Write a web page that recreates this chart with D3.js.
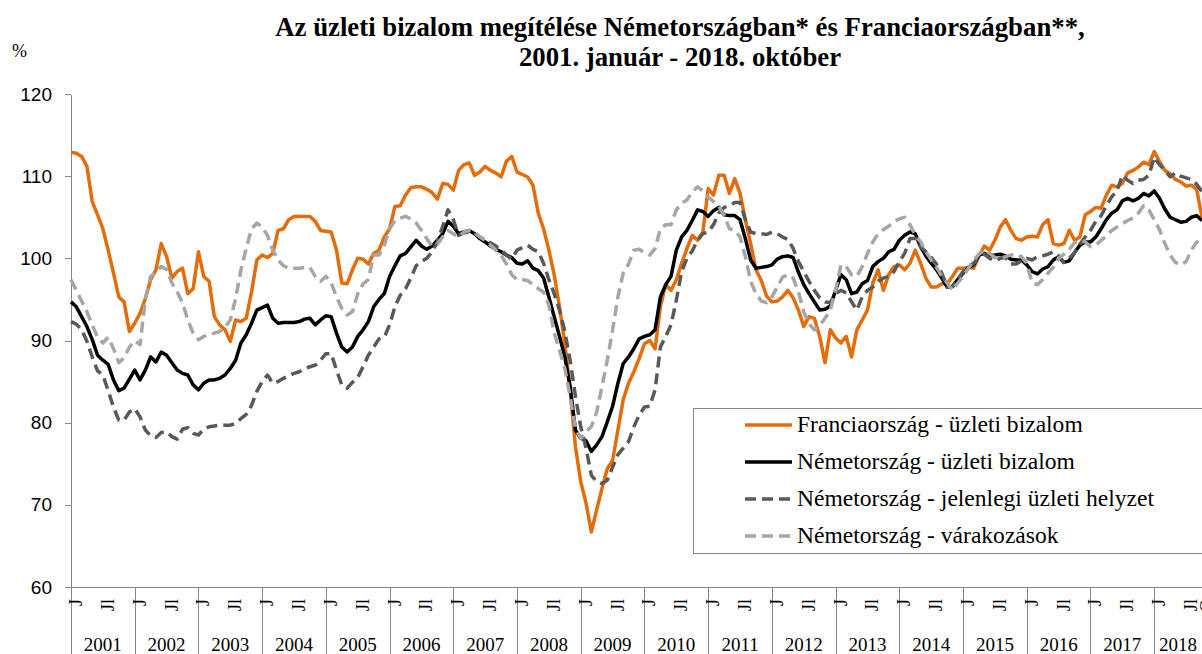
<!DOCTYPE html>
<html>
<head>
<meta charset="utf-8">
<script src="https://cdn.jsdelivr.net/npm/d3@7"></script>
<style>
  body { margin: 0; background: #fff; }
  svg { display: block; font-family: "Liberation Serif", "Times New Roman", serif; }
</style>
</head>
<body>
<svg id="chart" width="1202" height="654"></svg>
<script>
// Havi adatok, 2001. január - 2018. október (214 hónap)
var years = ["2001", "2002", "2003", "2004", "2005", "2006", "2007", "2008", "2009",
             "2010", "2011", "2012", "2013", "2014", "2015", "2016", "2017", "2018"];
var monthMarks = ["J", "Jl"];   // január, július
var lastMonthMark = "O";        // október
var yTicks = [60, 70, 80, 90, 100, 110, 120];

var seriesNames = [
  "Franciaország - üzleti bizalom",
  "Németország - üzleti bizalom",
  "Németország - jelenlegi üzleti helyzet",
  "Németország - várakozások"
];

var frClimate = [
  112.9,112.8,112.4,111.2,106.9,105.3,103.6,101.0,98.2,95.3,94.7,91.1,
  92.1,93.3,95.1,97.4,98.6,101.8,100.2,97.6,98.4,98.8,95.7,96.3,
  100.8,97.8,97.2,92.9,91.9,91.3,89.9,92.5,92.3,92.7,95.9,99.8,
  100.4,100.1,100.6,103.4,103.6,104.7,105.1,105.1,105.1,105.1,104.5,103.4,
  103.3,103.2,101.0,97.0,96.9,98.6,100.0,99.9,99.3,100.6,101.0,102.6,
  103.6,106.3,106.4,107.7,108.6,108.7,108.7,108.4,108.0,107.2,109.1,109.0,
  108.3,110.7,111.4,111.6,110.1,110.5,111.2,110.7,110.4,109.9,111.8,112.4,
  110.5,110.2,109.9,108.9,105.5,103.6,101.0,98.0,94.1,89.6,84.0,77.1,
  72.8,70.2,66.7,69.4,72.0,74.4,75.4,79.1,82.8,84.8,86.2,87.8,
  89.6,90.0,89.0,94.1,96.8,96.1,97.4,99.4,101.2,102.8,102.2,103.2,
  108.5,107.7,110.1,110.1,107.9,109.7,107.9,104.7,101.8,98.6,97.3,95.4,
  94.7,94.8,95.3,96.1,95.2,93.7,91.7,92.9,92.7,90.5,87.3,91.3,
  90.3,89.7,90.5,88.0,91.3,92.5,93.7,97.0,98.6,96.1,98.0,99.0,
  99.2,98.6,99.4,101.0,99.4,97.6,96.5,96.5,96.9,96.9,97.8,98.8,
  98.8,98.9,98.8,100.3,101.5,101.0,102.2,103.8,104.7,103.4,102.4,102.2,
  102.6,102.7,102.6,104.1,104.7,101.8,101.6,101.8,103.4,102.2,102.6,105.3,
  105.7,106.2,106.1,107.7,108.9,108.7,109.1,110.4,110.7,111.1,111.7,111.4,
  113.0,111.8,110.7,110.3,109.6,109.3,108.8,108.9,108.4,105.0
];

var deClimate = [
  94.7,94.1,92.9,91.7,90.1,88.2,87.6,87.1,85.2,83.9,84.2,85.3,
  86.4,85.2,86.4,88.0,87.4,88.6,88.2,87.3,86.4,86.0,85.8,84.6,
  84.0,84.8,85.2,85.2,85.4,85.8,86.6,87.6,89.7,90.7,92.1,93.7,
  94.0,94.3,92.7,92.1,92.2,92.2,92.2,92.3,92.6,92.7,91.9,92.5,
  93.0,92.9,90.9,89.2,88.6,89.2,90.5,91.3,92.3,94.1,95.0,95.7,
  97.8,99.1,100.3,100.6,101.4,102.2,101.5,101.1,101.5,102.2,103.0,104.5,
  103.9,103.0,103.2,103.4,103.0,102.4,102.0,101.5,101.1,100.8,100.4,100.1,
  99.4,99.3,99.7,98.8,98.5,97.6,95.3,92.9,90.5,88.0,84.4,79.1,
  78.1,77.8,76.5,77.3,78.3,80.1,82.0,84.8,87.2,88.0,89.0,90.2,
  90.5,90.7,91.3,95.3,96.8,97.8,101.0,102.6,103.4,104.6,105.9,105.7,
  105.1,105.8,106.2,105.3,105.2,105.2,104.7,102.4,99.8,98.8,98.9,99.0,
  99.2,99.9,100.2,100.3,100.1,98.3,96.8,95.7,94.7,93.7,93.8,94.2,
  96.1,98.0,97.4,95.7,95.9,96.9,97.3,99.0,99.6,100.0,100.8,101.1,
  102.2,102.8,103.2,103.0,101.4,100.3,99.4,98.6,97.6,96.5,96.6,97.4,
  98.2,98.9,99.2,100.4,100.6,100.3,100.4,100.5,100.3,99.9,99.8,99.8,
  99.2,98.4,98.1,98.7,99.0,99.8,100.2,99.5,99.7,100.7,101.6,102.0,
  102.0,102.6,103.6,104.7,105.5,105.9,107.0,107.3,107.0,107.3,107.9,107.6,
  108.2,107.3,106.0,105.0,104.7,104.4,104.5,105.0,105.2,104.6
];

var deSituation = [
  92.3,92.0,91.3,89.9,88.0,86.3,85.8,83.9,81.9,80.3,80.3,81.3,
  81.7,80.7,79.1,78.4,78.2,78.8,78.9,78.3,78.0,79.2,79.4,78.7,
  78.5,79.2,79.5,79.6,79.7,79.7,79.7,79.9,80.5,81.0,82.1,83.8,
  85.0,85.8,84.8,85.0,85.4,85.7,86.0,86.2,86.6,86.8,87.0,87.6,
  88.4,88.4,86.4,84.6,84.2,84.9,85.5,86.8,88.2,89.2,90.2,90.4,
  91.9,94.1,95.5,96.3,97.6,99.1,99.6,100.0,100.8,102.0,103.9,105.9,
  104.7,102.8,103.1,103.2,103.0,102.6,102.2,101.9,101.5,101.0,100.4,99.9,
  101.0,101.3,101.6,101.1,100.8,99.4,97.4,95.7,93.7,91.1,87.6,83.2,
  79.5,76.9,73.6,72.8,72.6,73.0,74.6,76.1,76.9,77.7,79.5,80.9,
  81.9,82.0,84.0,89.2,90.5,91.9,94.9,98.4,100.0,100.9,102.2,103.0,
  103.2,104.1,105.5,106.2,106.4,106.8,106.8,104.7,103.2,103.0,103.0,102.9,
  103.2,103.0,102.6,102.3,101.2,99.6,98.4,97.2,96.1,95.2,94.7,94.6,
  95.7,96.1,95.8,94.7,93.7,95.3,96.1,96.5,97.2,97.6,97.8,98.4,
  99.6,100.6,102.4,102.4,101.4,100.8,100.1,99.3,98.2,96.5,96.5,97.4,
  98.4,99.0,99.4,100.1,100.5,100.0,99.7,100.0,100.1,99.3,99.3,99.7,
  100.0,99.8,100.2,100.3,100.5,100.8,100.3,99.5,100.0,100.7,101.7,102.6,
  103.4,104.5,105.2,106.4,107.5,108.2,110.1,109.5,109.1,109.5,109.6,110.1,
  112.3,111.4,110.7,109.9,110.4,110.0,109.8,109.6,109.0,108.1
];

var deExpectations = [
  97.4,96.1,94.8,93.5,91.9,90.4,89.7,90.4,89.0,87.3,87.9,89.2,
  90.0,89.5,95.0,97.8,98.3,99.0,98.6,97.0,95.9,94.6,92.5,90.9,
  90.1,90.5,90.7,90.9,91.1,91.6,92.5,95.1,98.6,101.2,103.6,104.3,
  103.8,102.8,101.0,99.8,99.1,98.8,98.8,98.8,98.9,98.9,97.8,97.2,
  97.8,97.0,95.3,93.9,93.1,93.5,95.7,96.9,97.4,100.4,100.4,101.6,
  103.6,104.6,104.9,105.1,104.8,104.3,103.4,102.4,101.5,101.7,102.6,103.4,
  103.0,102.6,103.2,103.4,103.2,102.6,102.2,101.6,101.0,100.4,99.3,98.0,
  97.4,97.4,97.3,96.8,96.3,95.9,94.3,90.9,88.8,86.6,83.2,79.3,
  78.1,78.9,79.5,81.3,84.4,87.6,91.3,95.3,98.2,99.3,101.0,101.1,
  100.7,100.4,101.2,103.6,104.1,104.1,105.9,106.7,107.1,108.1,108.7,108.2,
  107.5,106.9,106.3,105.3,103.6,103.4,102.6,100.2,97.2,95.7,94.8,94.6,
  95.3,96.5,97.7,98.0,97.6,95.9,93.5,92.0,91.3,91.8,92.7,93.7,
  96.1,99.2,99.0,98.0,97.8,99.0,100.6,102.0,103.0,103.5,103.9,104.5,
  104.8,105.0,104.1,102.8,102.0,100.8,99.8,98.9,97.8,97.0,96.1,97.0,
  97.8,98.8,99.8,100.5,101.0,100.6,100.1,100.0,100.2,100.4,100.5,100.2,
  99.4,97.0,96.8,97.4,98.2,98.9,100.0,100.5,101.1,101.9,102.2,102.0,
  101.4,101.6,102.2,102.7,103.4,103.8,104.2,104.6,104.9,105.5,106.4,105.9,
  104.7,103.5,101.8,100.4,99.5,99.2,99.6,101.0,102.0,101.8
];

// Megjelenés
var series = [
  { name: seriesNames[0], values: frClimate,      color: '#E46C0A', dash: null },
  { name: seriesNames[1], values: deClimate,      color: '#000000', dash: null },
  { name: seriesNames[2], values: deSituation,    color: '#595959', dash: '11,6' },
  { name: seriesNames[3], values: deExpectations, color: '#A6A6A6', dash: '11,6' }
];

var svg       = d3.select('#chart'),
    width     = 1202,
    height    = 654,
    plotLeft  = 71,
    plotRight = 1202,
    plotTop   = 94,
    plotBot   = 587,
    axisColor = '#868686',
    n         = frClimate.length;

var x = d3.scaleLinear().domain([0, n - 1]).range([plotLeft, plotRight]);
var y = d3.scaleLinear().domain([60, 120]).range([plotBot, plotTop]);

svg.append('rect').attr('width', width).attr('height', height).attr('fill', '#fff');

// Cím
var title1 = svg.append('text')
    .attr('x', 680).attr('y', 36)
    .attr('text-anchor', 'middle')
    .attr('font-weight', 'bold')
    .attr('font-size', 22)
    .text('Az üzleti bizalom megítélése Németországban* és Franciaországban**,');
// fit the title to the width it has in the original
var tw = title1.node().getComputedTextLength();
var titleSize = 22 * 810 / tw;
title1.attr('font-size', titleSize);
svg.append('text')
    .attr('x', 680).attr('y', 66)
    .attr('text-anchor', 'middle')
    .attr('font-weight', 'bold')
    .attr('font-size', titleSize)
    .text('2001. január - 2018. október');

svg.append('text')
    .attr('x', 12).attr('y', 57)
    .attr('font-size', 18)
    .text('%');

// Y tengely
var yAxis = svg.append('g')
    .attr('transform', 'translate(' + plotLeft + ',0)')
    .call(d3.axisLeft(y).tickValues(yTicks).tickSize(6).tickSizeOuter(0).tickPadding(13));
yAxis.selectAll('text').attr('font-size', 19).attr('font-family', 'inherit').attr('fill', '#000');

// X tengely: évhatárok
var yearStarts = years.map(function (d, k) { return k * 12; });
var xAxis = svg.append('g')
    .attr('transform', 'translate(0,' + plotBot + ')')
    .call(d3.axisBottom(x).tickValues(yearStarts).tickSize(height - plotBot).tickSizeOuter(0).tickFormat(''));

[yAxis, xAxis].forEach(function (g) {
    g.attr('shape-rendering', 'crispEdges');
    g.select('.domain').attr('stroke', axisColor);
    g.selectAll('.tick line').attr('stroke', axisColor);
});

// Hónap jelölések (J, Jl, O)
var monthIdx = [];
for (var i = 0; i < n; i++) {
    if (i % 12 === 0) monthIdx.push({ i: i, t: monthMarks[0] });
    else if (i % 12 === 6) monthIdx.push({ i: i, t: monthMarks[1] });
}
monthIdx.push({ i: n - 1, t: lastMonthMark });

svg.append('g').selectAll('text')
    .data(monthIdx)
    .enter().append('text')
    .attr('transform', function (d) { return 'translate(' + (x(d.i) + 11) + ',599) rotate(-90)'; })
    .attr('text-anchor', 'end')
    .attr('font-size', 18)
    .text(function (d) { return d.t; });

// Év feliratok
svg.append('g').selectAll('text')
    .data(years)
    .enter().append('text')
    .attr('x', function (d, k) {
        var a = x(k * 12), b = Math.min(x(k * 12 + 12), plotRight);
        return (a + b) / 2;
    })
    .attr('y', 651)
    .attr('text-anchor', 'middle')
    .attr('font-size', 19)
    .text(function (d) { return d; });

// Vonalak
var line = d3.line()
    .x(function (d, i) { return x(i); })
    .y(function (d) { return y(d); });

svg.append('g').selectAll('path')
    .data(series)
    .enter().append('path')
    .attr('d', function (s) { return line(s.values); })
    .attr('fill', 'none')
    .attr('stroke', function (s) { return s.color; })
    .attr('stroke-width', 3.5)
    .attr('stroke-linejoin', 'round')
    .attr('stroke-dasharray', function (s) { return s.dash; });

// Jelmagyarázat
var legend = svg.append('g');
legend.append('rect')
    .attr('x', 693.5).attr('y', 408.5)
    .attr('width', 600).attr('height', 145)
    .attr('fill', '#fff')
    .attr('stroke', axisColor);

var rows = legend.selectAll('g.row')
    .data(series)
    .enter().append('g')
    .attr('class', 'row')
    .attr('transform', function (s, k) { return 'translate(0,' + (425 + k * 37) + ')'; });

rows.append('line')
    .attr('x1', 745).attr('x2', 792)
    .attr('stroke', function (s) { return s.color; })
    .attr('stroke-width', 3.5)
    .attr('stroke-dasharray', function (s) { return s.dash; });

var legendText = rows.append('text')
    .attr('x', 797).attr('y', 7)
    .attr('font-size', 20)
    .text(function (s) { return s.name; });

var lw = legendText.node().getComputedTextLength();
legendText.attr('font-size', 20 * 286 / lw);
</script>
</body>
</html>
